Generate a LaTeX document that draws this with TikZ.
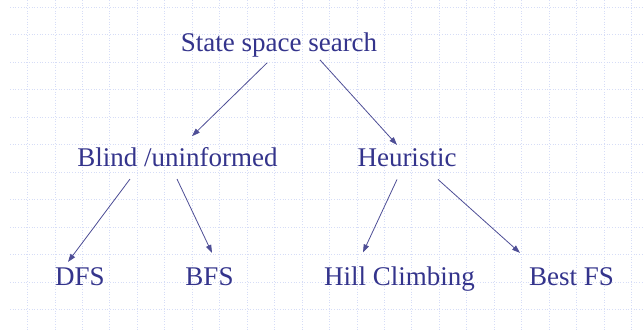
\documentclass[tikz,border=0pt]{standalone}
\usepackage{fontspec}
\setmainfont{Liberation Serif}
\usetikzlibrary{arrows.meta}
\definecolor{slateblue}{RGB}{52,52,140}
\definecolor{linkblue}{RGB}{78,78,150}
\definecolor{gridblue}{RGB}{214,221,247}
\tikzset{
	term/.style={anchor=base, inner sep=0pt, text=slateblue, font=\fontsize{27}{32}\selectfont},
	link/.style={draw=linkblue, line width=0.8pt, -{Triangle[length=8pt,width=5.5pt]}}
}
\begin{document}
\begin{tikzpicture}[x=1pt,y=-1pt]
			\useasboundingbox (0,0) rectangle (644,331);
			\fill [white] (0,0) rectangle (644,331);
			% dotted graph paper behind the tree
			\foreach \k in {0,...,11}
				\draw [gridblue, dotted, line width=0.7pt] (10,7+27.5*\k) -- (644,7+27.5*\k);
			\foreach \k in {1,...,23}
				\draw [gridblue, dotted, line width=0.7pt] (27.45*\k,0) -- (27.45*\k,331);

			\node [term] (root) at (279,52) {State space search};
			\node [term] (blind) at (177.5,167) {Blind /uninformed};
			\node [term] (heur) at (407,167) {Heuristic};
			\node [term] (dfs) at (80,285) {DFS};
			\node [term] (bfs) at (209.5,285) {BFS};
			\node [term] (hill) at (399.5,285) {Hill Climbing};
			\node [term] (best) at (571.5,285) {Best FS};

			\draw [link] ([xshift=-12pt,yshift=-5pt]root.south) -- ([xshift=14.5pt,yshift=11.6pt]blind.north);
			\draw [link] ([xshift=41pt,yshift=-2pt]root.south) -- ([xshift=-10pt,yshift=4pt]heur.north);
			\draw [link] ([xshift=-47.5pt,yshift=-11.6pt]blind.south) -- ([xshift=-12pt,yshift=5pt]dfs.north);
			\draw [link] ([xshift=-0.5pt,yshift=-11.6pt]blind.south) -- ([xshift=2.5pt,yshift=14pt]bfs.north);
			\draw [link] ([xshift=-10pt,yshift=-12pt]heur.south) -- ([xshift=-36.5pt,yshift=13.6pt]hill.north);
			\draw [link] ([xshift=31pt,yshift=-12pt]heur.south) -- ([xshift=-51.5pt,yshift=14pt]best.north);
		\end{tikzpicture}
\end{document}
